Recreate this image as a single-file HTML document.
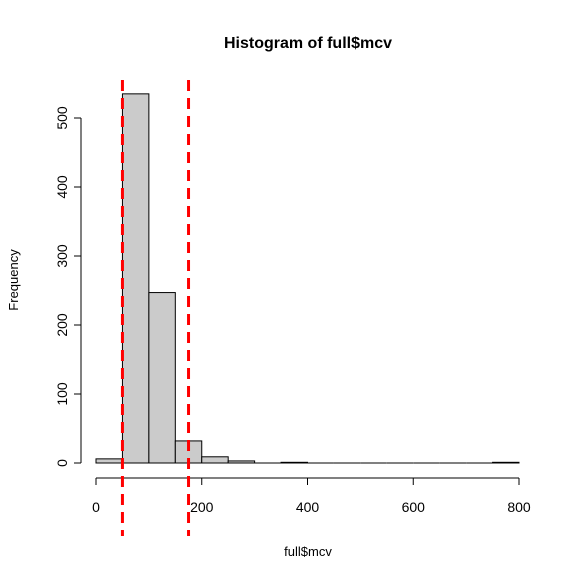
<!DOCTYPE html>
<html><head><meta charset="utf-8"><style>
body{margin:0;background:#fff;font-family:"Liberation Sans",Arial,sans-serif}
svg text{font-family:"Liberation Sans",Arial,sans-serif}
</style></head><body>
<svg id="c" width="576" height="576" xmlns="http://www.w3.org/2000/svg">
<rect width="576" height="576" fill="#fff"/>
<text x="308" y="48" font-size="16" font-weight="bold" text-anchor="middle">Histogram of full$mcv</text>
<text x="308" y="556" font-size="13" text-anchor="middle">full$mcv</text>
<text transform="translate(18,280) rotate(-90)" font-size="13" text-anchor="middle">Frequency</text>
<g id="bars"></g><g id="axes"></g><g id="vlines"></g>
</svg>
<script>
const binStarts=[0,50,100,150,200,250,300,350,400,450,500,550,600,650,700,750];
const counts=[6,535,247,32,9,3,0,1,0,0,0,0,0,0,0,1];
const binWidth=50;
const xTicks=[0,200,400,600,800];
const yTicks=[0,100,200,300,400,500];
const cutoffs=[50,175];
const NS="http://www.w3.org/2000/svg";
const xs=v=>96+v*(423/800);
const ys=v=>463-v*(345/500);
function mk(t,a,p){const e=document.createElementNS(NS,t);for(const k in a)e.setAttribute(k,a[k]);p.appendChild(e);return e;}
const bars=document.getElementById('bars');
binStarts.forEach((b,i)=>{
 let r;
 if(counts[i]>0){
  r=mk('rect',{x:xs(b),y:ys(counts[i]),width:xs(b+binWidth)-xs(b),height:ys(0)-ys(counts[i]),fill:'#cbcbcb',stroke:'#000','stroke-width':1},bars);
 } else {
  r=mk('line',{x1:xs(b),x2:xs(b+binWidth),y1:ys(0),y2:ys(0),stroke:'#000','stroke-width':1},bars);
 }
 
 
});
const ax=document.getElementById('axes');
const xa=mk('g',{},ax);


mk('line',{x1:xs(xTicks[0]),x2:xs(xTicks[xTicks.length-1]),y1:478,y2:478,stroke:'#000'},xa);
xTicks.forEach(t=>{mk('line',{x1:xs(t),x2:xs(t),y1:478,y2:485,stroke:'#000'},xa);
 const tx=mk('text',{x:xs(t),y:512,'font-size':14,'text-anchor':'middle'},xa);tx.textContent=t;
 
 });
const ya=mk('g',{},ax);


mk('line',{x1:81,x2:81,y1:ys(yTicks[0]),y2:ys(yTicks[yTicks.length-1]),stroke:'#000'},ya);
yTicks.forEach(t=>{mk('line',{x1:74,x2:81,y1:ys(t),y2:ys(t),stroke:'#000'},ya);
 const tx=mk('text',{x:0,y:0,'font-size':14,'text-anchor':'middle',transform:`translate(67,${ys(t)}) rotate(-90)`},ya);tx.textContent=t;
 
 });
const vl=document.getElementById('vlines');
cutoffs.forEach(c=>{const l=mk('line',{x1:xs(c),x2:xs(c),y1:80,y2:536,stroke:'#ff0000','stroke-width':3,'stroke-dasharray':'11 7'},vl);
 
 });
</script>
</body></html>
